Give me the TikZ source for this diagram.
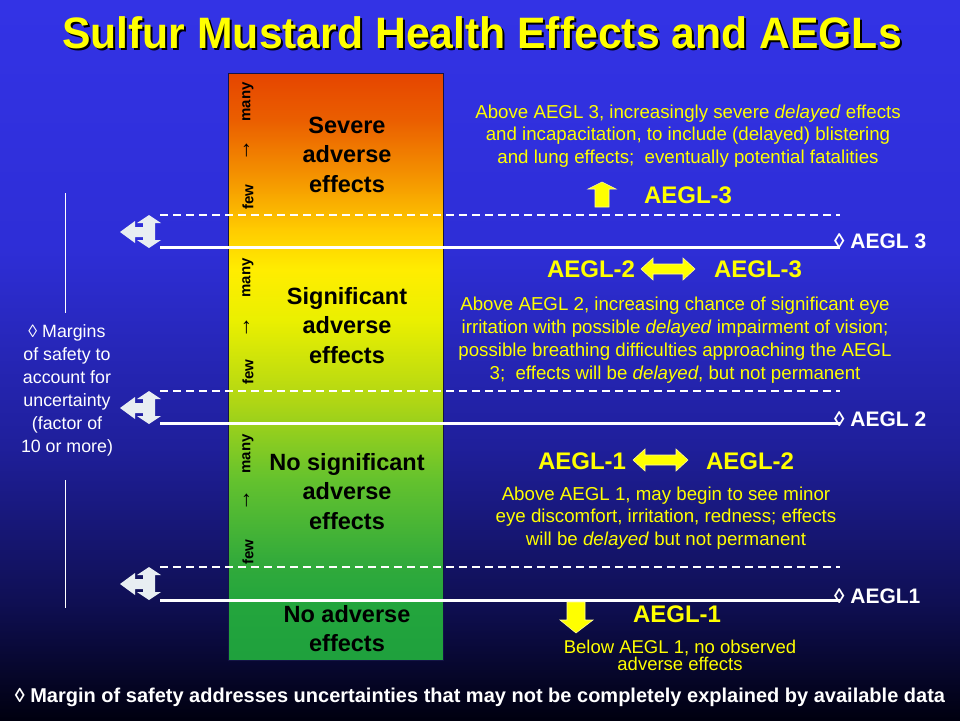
\documentclass[tikz,border=0pt]{standalone}
\usepackage{fontspec}
\setmainfont{Liberation Sans}
\usetikzlibrary{positioning}

\definecolor{aeglyellow}{RGB}{255,255,0}
\definecolor{marginwhite}{RGB}{232,238,242}
\definecolor{colborder}{RGB}{20,20,70}

\pgfdeclareverticalshading{bgshade}{100bp}{rgb(0bp)=(0,0,0.06); rgb(25bp)=(0,0,0.06);
  rgb(33.3bp)=(0.06,0.06,0.33); rgb(43.75bp)=(0.12,0.12,0.6); rgb(57.6bp)=(0.18,0.18,0.84);
  rgb(75bp)=(0.2,0.2,0.9); rgb(100bp)=(0.2,0.2,0.9)}
\pgfdeclareverticalshading{colshade}{100bp}{rgb(0bp)=(0.12,0.63,0.24); rgb(25bp)=(0.12,0.63,0.24);
  rgb(30.1bp)=(0.14,0.65,0.24); rgb(33.5bp)=(0.2,0.67,0.23); rgb(40.3bp)=(0.39,0.76,0.18);
  rgb(47.1bp)=(0.69,0.84,0.08); rgb(54bp)=(0.92,0.94,0); rgb(58.2bp)=(1,0.93,0);
  rgb(61.6bp)=(1,0.8,0); rgb(65.9bp)=(0.96,0.59,0); rgb(71bp)=(0.92,0.37,0);
  rgb(75bp)=(0.9,0.27,0); rgb(100bp)=(0.9,0.27,0)}

\begin{document}
\begin{tikzpicture}[
        x=1pt, y=-1pt,
        title/.style={font=\fontsize{44}{44}\selectfont\bfseries, inner sep=0pt},
        bandtext/.style={font=\fontsize{23.5}{29.5}\selectfont\bfseries, align=center, inner sep=0pt},
        fewmany/.style={font=\fontsize{15}{15}\selectfont\bfseries, rotate=90, inner sep=0pt},
        note/.style={text=aeglyellow, font=\fontsize{18.7}{22.8}\selectfont, align=center, inner sep=0pt},
        aegl/.style={text=aeglyellow, font=\fontsize{24}{24}\selectfont\bfseries, inner sep=0pt},
        levellabel/.style={text=white, font=\fontsize{21}{21}\selectfont\bfseries, anchor=west, inner sep=0pt},
        dashedline/.style={white, line width=2pt, dash pattern=on 8pt off 5pt},
        solidline/.style={white, line width=3pt},
        marginarrow/.style={fill=marginwhite},
        yellowarrow/.style={fill=aeglyellow, draw=yellow!40!white, line width=0.6pt}
    ]
        % background
        \shade[shading=bgshade] (0,0) rectangle (960,720);
        \useasboundingbox (0,0) rectangle (960,720);

        % title with shadow
        \node[title, text=black] (titleshadow) at (484,35) {\scalebox{0.97}[1]{Sulfur Mustard Health Effects and AEGLs}};
        \node[title, text=aeglyellow] (title) at (482,33) {\scalebox{0.97}[1]{Sulfur Mustard Health Effects and AEGLs}};

        % effect column
        \path[shading=colshade, draw=colborder, line width=0.8pt] (228,73) rectangle (443,660);
        \node[bandtext] (severe) at (347,154.5) {Severe\\adverse\\effects};
        \node[bandtext] (signif) at (347,325.5) {Significant\\adverse\\effects};
        \node[bandtext] (nosignif) at (347,491.5) {No significant\\adverse\\effects};
        \node[bandtext] (noadverse) at (347,628.5) {No adverse\\effects};

        % few -> many
        \foreach \yfew/\yarr/\ymany [count=\i] in {197/150/102, 372/327/278, 552/500/454} {
            \node[fewmany] (few\i) at (248,\yfew) {few};
            \node[fewmany, font=\fontsize{22}{22}\selectfont\bfseries] (up\i) at (247,\yarr) {→};
            \node[fewmany] (many\i) at (248,\ymany) {many};
        }

        % level lines
        \foreach \yd/\ys in {215/247, 391/423, 567/600} {
            \draw[dashedline] (160,\yd) -- (840,\yd);
            \draw[solidline] (160,\ys) -- (840,\ys);
        }
        \node[levellabel] (lev3) at (834,241) {◊ AEGL 3};
        \node[levellabel] (lev2) at (834,419) {◊ AEGL 2};
        \node[levellabel] (lev1) at (834,596) {◊ AEGL1};

        % margin of safety arrows
        \foreach \y in {215, 391, 567} {
            \fill[marginwhite] (149,\y) -- (161,\y+8) -- (155,\y+8) -- (155,\y+25) -- (161,\y+25)
                -- (149,\y+33) -- (137,\y+25) -- (143,\y+25) -- (143,\y+22) -- (135,\y+22)
                -- (135,\y+28) -- (120,\y+17) -- (135,\y+6) -- (135,\y+12) -- (143,\y+12)
                -- (143,\y+8) -- (137,\y+8) -- cycle;
        }

        % left note
        \draw[white, line width=0.8pt] (65,193) -- (65,313);
        \draw[white, line width=0.8pt] (65,480) -- (65,608);
        \node[note, text=white, font=\fontsize{17.8}{23}\selectfont] (margins) at (67,390) {◊ Margins\\of safety to\\account for\\uncertainty\\(factor of\\10 or more)};

        % AEGL 3
        \node[note] (above3) at (688,136) {Above AEGL 3, increasingly severe \textit{delayed} effects\\and incapacitation, to include (delayed) blistering\\and lung effects;\ \ eventually potential fatalities};
        \path[yellowarrow] (602,182) -- (616,189) -- (609,189) -- (609,207) -- (595,207) -- (595,189) -- (588,189) -- cycle;
        \node[aegl] (a3) at (688,195) {AEGL-3};

        % AEGL 2 <-> AEGL 3
        \node[aegl] (a2left) at (591,269) {AEGL-2};
        \node[aegl] (a3right) at (758,269) {AEGL-3};
        \path[yellowarrow] (641,269) -- (653,258) -- (653,264) -- (683,264) -- (683,258) -- (695,269)
            -- (683,280) -- (683,274) -- (653,274) -- (653,280) -- cycle;
        \node[note] (above2) at (675,340) {Above AEGL 2, increasing chance of significant eye\\irritation with possible \textit{delayed} impairment of vision;\\possible breathing difficulties approaching the AEGL\\3;\ \ effects will be \textit{delayed}, but not permanent};

        % AEGL 1 <-> AEGL 2
        \node[aegl] (a1left) at (582,461) {AEGL-1};
        \node[aegl] (a2right) at (750,461) {AEGL-2};
        \path[yellowarrow] (633,460) -- (645,449) -- (645,455) -- (676,455) -- (676,449) -- (688,460)
            -- (676,471) -- (676,465) -- (645,465) -- (645,471) -- cycle;
        \node[note] (above1) at (666,518) {Above AEGL 1, may begin to see minor\\eye discomfort, irritation, redness; effects\\will be \textit{delayed} but not permanent};

        % below AEGL 1
        \path[yellowarrow] (567,602) -- (585,602) -- (585,620) -- (593,620) -- (576,633) -- (560,620) -- (567,620) -- cycle;
        \node[aegl] (a1) at (677,614) {AEGL-1};
        \node[note, font=\fontsize{18.5}{17}\selectfont] (below1) at (680,655.5) {Below AEGL 1, no observed\\adverse effects};

        % footnote
        \node[text=white, font=\fontsize{20}{20}\selectfont\bfseries, inner sep=0pt] (footnote) at (480,697)
            {◊ Margin of safety addresses uncertainties that may not be completely explained by available data};
    \end{tikzpicture}
\end{document}
